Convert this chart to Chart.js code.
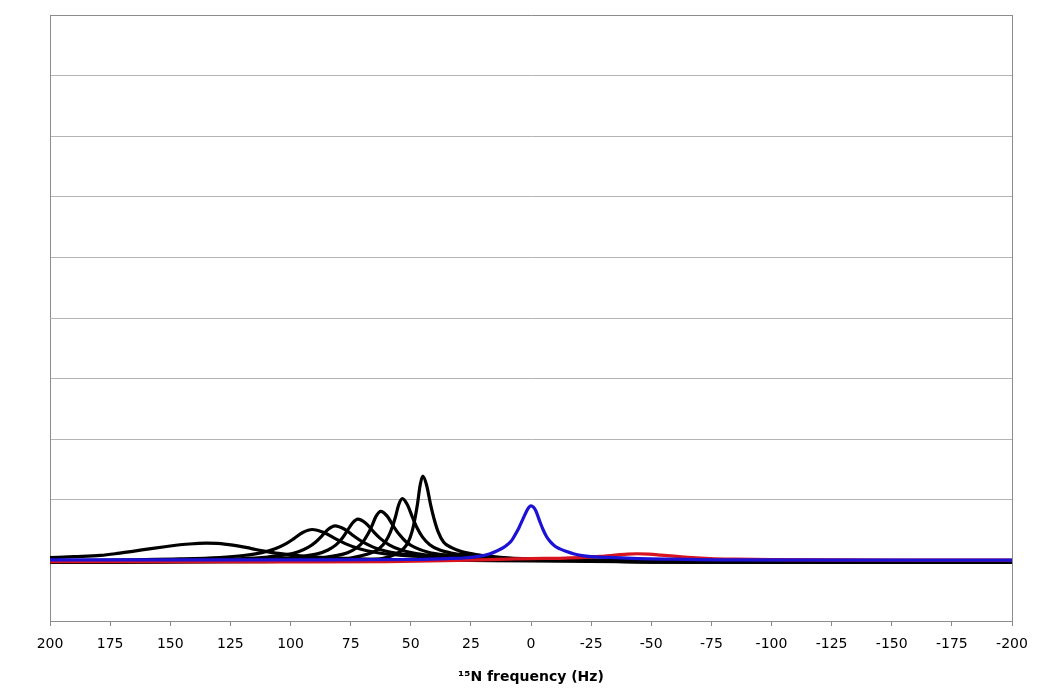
<!DOCTYPE html>
<html>
<head>
<meta charset="utf-8">
<script src="https://cdn.jsdelivr.net/npm/chart.js@4.4.0/dist/chart.umd.min.js"></script>
<style>
  body{margin:0;background:#fff;}
  #spectrum{display:block;}
</style>
</head>
<body>
<canvas id="spectrum" width="1050" height="698"></canvas>
<script>
// values (Hz, arbitrary intensity)
const xTicks = [200,175,150,125,100,75,50,25,0,-25,-50,-75,-100,-125,-150,-175,-200]

const peak1Hz  = [200,110,77,67.4,61,56.2,53.3,51.1,49.5,48.2,47.2,46.1,45,43.4,41.8,40.4,38.6,36.3,33,28.9,22,12.8,-1,-30,-60,-200]
const peak1Amp = [-0.03,-0.02,-0.005,0.01,0.04,0.105,0.18,0.30,0.47,0.70,0.93,1.24,1.39,1.24,0.93,0.70,0.47,0.30,0.21,0.145,0.09,0.05,0.02,-0.01,-0.03,-0.03]

const peak2Hz  = [200,140,95.5,82.9,74.5,68.2,64.4,61.5,59.4,57.7,56.4,55,53.5,51.4,49.3,47.5,45.1,42.1,37.9,32.5,23.5,11.5,-6.5,-40,-200]
const peak2Amp = [-0.03,-0.02,-0.005,0.015,0.044,0.10,0.161,0.258,0.385,0.547,0.712,0.919,1.02,0.919,0.712,0.547,0.385,0.26,0.17,0.115,0.07,0.04,0.012,-0.02,-0.03]

const peak3Hz  = [200,155,115.5,99.6,89,81.1,76.3,72.6,69.9,67.8,66.2,64.4,62.5,59.8,57.2,54.9,51.9,48.1,42.7,35.9,24.5,9.3,-13.5,-50,-200]
const peak3Amp = [-0.03,-0.02,0,0.014,0.033,0.079,0.128,0.205,0.305,0.434,0.565,0.73,0.81,0.73,0.565,0.434,0.305,0.21,0.135,0.09,0.055,0.03,0.008,-0.02,-0.03]

const peak4Hz  = [200,175,137,117.5,104.5,94.8,88.9,84.4,81.1,78.5,76.6,74.3,72,68.7,65.5,62.7,59,54.3,47.8,39.4,25.5,6.9,-21,-60,-200]
const peak4Amp = [-0.025,-0.02,0,0.012,0.03,0.067,0.107,0.172,0.256,0.364,0.475,0.613,0.68,0.613,0.475,0.364,0.256,0.175,0.112,0.072,0.042,0.022,0.003,-0.02,-0.03]

const peak5Hz  = [200,161.5,137.5,121.5,109.5,102.3,96.7,92.7,89.5,87.1,84.3,81.5,77.5,73.5,70,65.4,59.7,51.6,41.3,24,1,-33.5,-70,-200]
const peak5Amp = [-0.02,-0.005,0.01,0.027,0.056,0.09,0.144,0.215,0.305,0.398,0.514,0.57,0.514,0.398,0.305,0.215,0.146,0.095,0.06,0.035,0.017,0,-0.02,-0.03]

const peak6Hz  = [200,168,146,129.5,119.6,111.9,106.4,102,98.7,94.9,91,86.1,81.2,77,71.4,64.4,54.6,42,21,-7,-49,-100,-200]
const peak6Amp = [-0.01,0.01,0.024,0.048,0.081,0.129,0.192,0.273,0.356,0.46,0.51,0.46,0.356,0.273,0.192,0.131,0.085,0.055,0.03,0.012,-0.01,-0.025,-0.03]

const peak7Hz  = [200,190,179,172,165,158,151.5,146,140.5,135,130.5,126.5,122,118,114.5,111,105,100,90,75,50,25,0,-50,-200]
const peak7Amp = [0.045,0.062,0.083,0.115,0.154,0.195,0.23,0.258,0.275,0.285,0.28,0.264,0.24,0.21,0.18,0.154,0.115,0.09,0.055,0.03,0.01,0,-0.01,-0.025,-0.03]

const blueHz  = [200,100,50,35,28,24,21,17,14,11.5,9.5,8,6.5,5,3.5,2,1,0,-1,-2,-3.5,-5,-6.5,-8,-10,-12,-14.5,-18,-22,-27,-35,-45,-60,-78,-200]
const blueAmp = [0.01,0.01,0.015,0.03,0.04,0.055,0.07,0.11,0.16,0.21,0.27,0.33,0.43,0.54,0.67,0.80,0.87,0.90,0.88,0.82,0.66,0.51,0.39,0.31,0.235,0.19,0.15,0.105,0.075,0.058,0.045,0.03,0.02,0.01,0.005]

const redHz  = [200,100,60,30,10,0,-12,-20,-28.7,-34,-39,-44,-49,-54,-60.6,-67,-74.4,-85,-100,-150,-200]
const redAmp = [-0.02,-0.025,-0.02,0,0.02,0.03,0.035,0.045,0.066,0.085,0.1,0.11,0.103,0.088,0.066,0.045,0.03,0.02,0.012,0.005,0.005]

//--------------------------------------------------------------------
function toPoints(hz, amp){
    return hz.map((h, i) => ({x: h, y: amp[i]}))
}

function curve(hz, amp, color){
    return {
        data: toPoints(hz, amp),
        borderColor: color,
        borderWidth: 3.2,
        pointRadius: 0,
        fill: false,
        cubicInterpolationMode: 'monotone'
    }
}

// first dataset ends up on top, so blue then red then the black ones
const datasets = [
    curve(blueHz, blueAmp, '#1c12d6'),
    curve(redHz, redAmp, '#d8141e'),
    curve(peak1Hz, peak1Amp, '#000'),
    curve(peak2Hz, peak2Amp, '#000'),
    curve(peak3Hz, peak3Amp, '#000'),
    curve(peak4Hz, peak4Amp, '#000'),
    curve(peak5Hz, peak5Amp, '#000'),
    curve(peak6Hz, peak6Amp, '#000'),
    curve(peak7Hz, peak7Amp, '#000')
]

const frameGrey = '#8c8c8c'
const gridGrey = '#b4b4b4'

new Chart(document.getElementById('spectrum'), {
    type: 'line',
    data: {datasets: datasets},
    options: {
        responsive: false,
        animation: false,
        layout: {padding: {top: 15, right: 38, left: 0, bottom: 0}},
        plugins: {legend: {display: false}, tooltip: {enabled: false}},
        scales: {
            x: {
                type: 'linear',
                reverse: true,
                min: -200,
                max: 200,
                afterBuildTicks: (scale) => { scale.ticks = xTicks.map(v => ({value: v})) },
                afterFit: (scale) => { scale.height = 77 },
                ticks: {
                    color: '#000',
                    padding: 10,
                    font: {family: 'DejaVu Sans', size: 14}
                },
                grid: {
                    color: (ctx) => (ctx.tick && ctx.tick.value === -200) ? frameGrey : 'rgba(0,0,0,0)',
                    tickColor: frameGrey,
                    tickLength: 5,
                    lineWidth: 1
                },
                border: {color: frameGrey, width: 1},
                title: {
                    display: true,
                    text: '¹⁵N frequency (Hz)',
                    color: '#000',
                    padding: {top: 4, bottom: 12},
                    font: {family: 'DejaVu Sans', size: 14, weight: 'bold'}
                }
            },
            y: {
                min: -1,
                max: 9,
                afterFit: (scale) => { scale.width = 50 },
                ticks: {display: false, stepSize: 1},
                grid: {
                    color: (ctx) => (ctx.tick && ctx.tick.value === 9) ? frameGrey : gridGrey,
                    drawTicks: false,
                    lineWidth: 1
                },
                border: {color: frameGrey, width: 1}
            }
        }
    }
})
</script>
</body>
</html>
